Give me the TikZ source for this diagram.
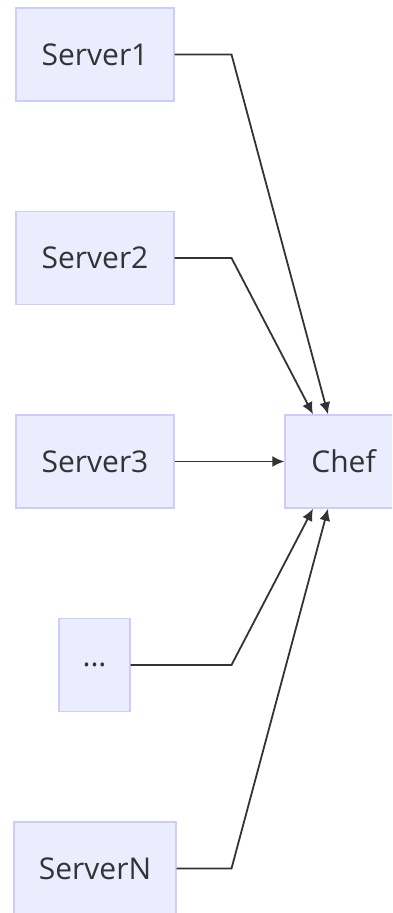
\documentclass[tikz,border=0pt]{standalone}
\usepackage{fontspec}
\setmainfont{Open Sans}
\usetikzlibrary{arrows.meta}
\definecolor{boxfill}{HTML}{ECECFF}
\definecolor{boxline}{HTML}{CCCCFF}
\definecolor{ink}{HTML}{333333}

\begin{document}
\begin{tikzpicture}[x=0.5pt,y=-0.5pt,
    srv/.style={rectangle,draw=boxline,fill=boxfill,line width=0.7pt,minimum width=79pt,minimum height=46.5pt,inner sep=0pt,text=ink,font=\fontsize{15}{18}\selectfont},
    link/.style={draw=ink,line width=0.9pt,-{Latex[length=6pt,width=5.5pt]}}]
    \useasboundingbox[clip] (0,0) rectangle (392,913);
    % nodes
    \node at (95,54.5) [srv] (s1) {Server1};
    \node at (95,258) [srv] (s2) {Server2};
    \node at (95,461.5) [srv] (s3) {Server3};
    \node at (94.5,665) [srv,minimum width=35.5pt] (dots) {...};
    \node at (95,868.5) [srv,minimum width=81pt] (sN) {ServerN};
    \node at (343.5,461.5) [srv,minimum width=58.5pt] (chef) {Chef};
    \coordinate (knee) at (231.5,0);

    % paths
    \draw[link] (s1.east) -- (s1.east -| knee) -- ([xshift=-7.75pt]chef.north);
    \draw[link] (s2.east) -- (s2.east -| knee) -- ([xshift=-15.25pt]chef.north);
    \draw[link] (s3) -- (chef);
    \draw[link] (dots.east) -- (dots.east -| knee) -- ([xshift=-15.25pt]chef.south);
    \draw[link] (sN.east) -- (sN.east -| knee) -- ([xshift=-7.75pt]chef.south);
\end{tikzpicture}
\end{document}
